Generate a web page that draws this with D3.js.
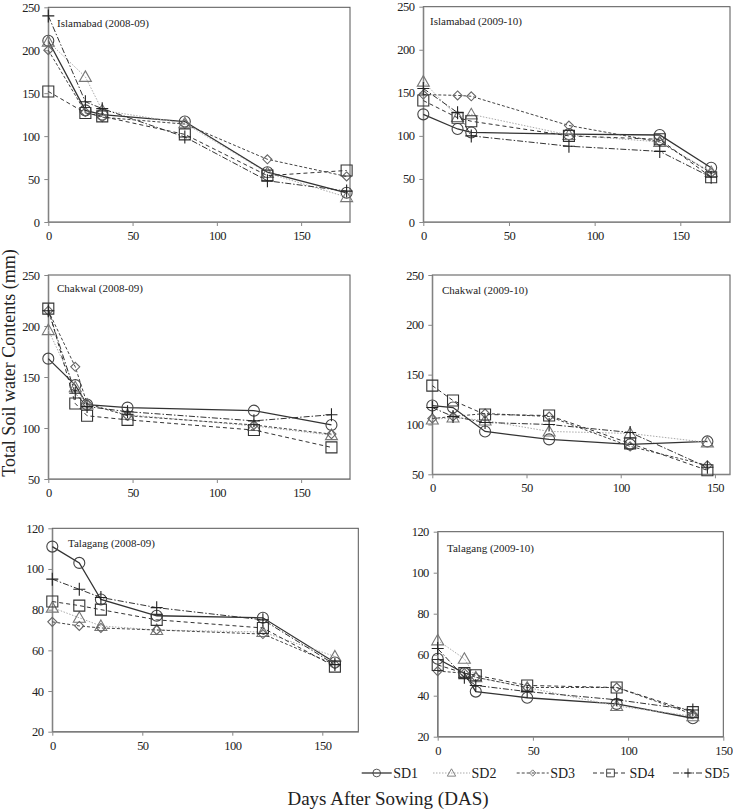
<!DOCTYPE html>
<html><head><meta charset="utf-8">
<script src="https://cdn.jsdelivr.net/npm/d3@7"></script>
<style>
body{margin:0;background:#fff;}
svg{display:block;}
svg text{font-family:"Liberation Serif","Times New Roman",serif !important;}
</style></head><body>
<svg id="c" width="733" height="811"></svg>
<script>
// ---------- DATA ----------
const seriesNames = ["SD1","SD2","SD3","SD4","SD5"];
const panelTitles = ["Islamabad (2008-09)","Islamabad (2009-10)","Chakwal (2008-09)","Chakwal (2009-10)","Talagang (2008-09)","Talagang (2009-10)"];

const daysIsb0809 = [0,22,32,81,130,177];
const isb0809 = [
  [211,130,125,117,58,34],
  [210,169,130,115,57,29],
  [200,128,122,114,73,53],
  [152,127,123,102,54,60],
  [240,140,132,99,48,36]
];
const daysIsb0910 = [0,20,28,85,138,168];
const isb0910 = [
  [125,108,104,102,101,63],
  [163,122,125,101,93,58],
  [148,147,146,112,93,57],
  [141,121,117,100,96,52],
  [155,127,100,88,82,52]
];
const daysChk0809 = [0,16,23,47,122,168];
const chk0809 = [
  [168,142,123,120,117,103],
  [196,140,123,113,102,93],
  [215,160,124,112,103,94],
  [217,124,112,108,98,81],
  [215,134,121,116,107,113]
];
const daysChk0910 = [0,11,28,62,105,146];
const chk0910 = [
  [119,117,93,85,80,83],
  [105,107,104,93,91,82],
  [106,108,111,108,78,59],
  [139,124,110,109,81,54],
  [117,108,102,100,92,57]
];
const daysTlg0809 = [0,15,27,58,117,157];
const tlg0809 = [
  [111,103,85,77,76,54],
  [81,76,72,70,69,57],
  [74,72,71,70,68,53],
  [84,82,80,75,71,52],
  [95,90,86,81,75,53]
];
const daysTlg0910 = [0,14,20,47,94,134];
const tlg0910 = [
  [58,51,42,39,36,29],
  [67,58,49,44,35,30],
  [52,51,49,44,44,31],
  [55,51,50,45,44,32],
  [63,49,45,42,38,33]
];
const xTicks = [0,50,100,150];
const yTicks250 = [0,50,100,150,200,250];
const yTicksChk = [50,100,150,200,250];
const yTicksTlg = [20,40,60,80,100,120];

// ---------- LAYOUT ----------
const panels = [
  {days:daysIsb0809, vals:isb0809, l:48.3, r:350, t:7.3, b:222, xd:[0,179], yd:[0,250], yt:yTicks250, tx:57, ty:27},
  {days:daysIsb0910, vals:isb0910, l:423.3, r:730, t:6.7, b:222, xd:[0,179], yd:[0,250], yt:yTicks250, tx:430, ty:25},
  {days:daysChk0809, vals:chk0809, l:48.3, r:350, t:275, b:479, xd:[0,179], yd:[50,250], yt:yTicksChk, tx:57, ty:292},
  {days:daysChk0910, vals:chk0910, l:432.3, r:730, t:275, b:474.3, xd:[0,158], yd:[50,250], yt:yTicksChk, tx:442, ty:294},
  {days:daysTlg0809, vals:tlg0809, l:52.3, r:358.3, t:528.3, b:731.7, xd:[0,170], yd:[20,120], yt:yTicksTlg, tx:68, ty:547},
  {days:daysTlg0910, vals:tlg0910, l:437.7, r:723.3, t:531.7, b:736.7, xd:[0,150], yd:[20,120], yt:yTicksTlg, tx:447, ty:552}
];

const styles = [
  {stroke:"#333", width:1.3, dash:null, mcolor:"#444", marker:"circle"},
  {stroke:"#aaa", width:1, dash:"1.5,1.5", mcolor:"#777", marker:"triangle"},
  {stroke:"#444", width:1, dash:"3,2", mcolor:"#666", marker:"diamond"},
  {stroke:"#333", width:1, dash:"4,3", mcolor:"#333", marker:"square"},
  {stroke:"#333", width:1, dash:"6,2,1.5,2", mcolor:"#222", marker:"plus"}
];
const markerPath = {
  circle: "M5.5,0A5.5,5.5 0 1,1 -5.5,0A5.5,5.5 0 1,1 5.5,0Z",
  triangle: "M0,-6L6,4.5L-6,4.5Z",
  diamond: "M0,-4.5L4.5,0L0,4.5L-4.5,0Z",
  square: "M-5.5,-5.5H5.5V5.5H-5.5Z",
  plus: "M-6,0H6M0,-6.5V6.5"
};

const svg = d3.select("#c");

panels.forEach((p,pi)=>{
  const x = d3.scaleLinear().domain(p.xd).range([p.l,p.r]);
  const y = d3.scaleLinear().domain(p.yd).range([p.b,p.t]);
  const g = svg.append("g");
  g.append("rect").attr("x",p.l).attr("y",p.t).attr("width",p.r-p.l).attr("height",p.b-p.t)
    .attr("fill","none").attr("stroke","#555").attr("stroke-width",1);
  const xa = g.append("g").attr("transform",`translate(0,${p.b})`)
    .call(d3.axisBottom(x).tickValues(xTicks).tickSize(4).tickPadding(5).tickSizeOuter(0));
  const ya = g.append("g").attr("transform",`translate(${p.l},0)`)
    .call(d3.axisLeft(y).tickValues(p.yt).tickSize(4).tickPadding(5).tickSizeOuter(0));
  [xa,ya].forEach(a=>{
    a.select(".domain").attr("stroke","#888");
    a.selectAll(".tick line").attr("stroke","#888");
    a.selectAll("text").style("font-size","12.5px").style("letter-spacing","-0.6px").attr("fill","#222");
  });
  g.append("text").attr("x",p.tx).attr("y",p.ty).style("font-size","11px").attr("fill","#222").text(panelTitles[pi]);
  const line = d3.line().x((d,i)=>x(p.days[i])).y(d=>y(d));
  p.vals.forEach((vals,si)=>{
    const s = styles[si];
    g.append("path").attr("d",line(vals)).attr("fill","none").attr("stroke",s.stroke)
      .attr("stroke-width",s.width).attr("stroke-dasharray",s.dash);
    g.selectAll(null).data(vals).enter().append("path")
      .attr("d",markerPath[s.marker])
      .attr("transform",(d,i)=>`translate(${x(p.days[i])},${y(d)})`)
      .attr("fill","none").attr("stroke",s.mcolor).attr("stroke-width",1.1);
  });
});

// legend
const legendX = [361.7, 433, 516.7, 593, 673];
const legendW = [30, 37, 32, 35, 30];
const ly = 773;
seriesNames.forEach((n,i)=>{
  const s = styles[i];
  const x0 = legendX[i], x1 = x0+legendW[i];
  svg.append("line").attr("x1",x0).attr("x2",x1).attr("y1",ly).attr("y2",ly)
    .attr("stroke",s.stroke).attr("stroke-width",s.width).attr("stroke-dasharray",s.dash);
  svg.append("path").attr("d",markerPath[s.marker])
    .attr("transform",`translate(${(x0+x1)/2},${ly}) scale(0.7)`)
    .attr("fill","none").attr("stroke",s.mcolor).attr("stroke-width",1.3);
  svg.append("text").attr("x",x1+1.5).attr("y",ly+5).style("font-size","14px").attr("fill","#222").text(n);
});

// axis titles
svg.append("text").attr("x",388).attr("y",805).attr("text-anchor","middle")
  .style("font-size","19px").attr("fill","#222").text("Days After Sowing (DAS)");
svg.append("text").attr("transform","translate(15,363) rotate(-90)").attr("text-anchor","middle")
  .style("font-size","18px").attr("fill","#222").text("Total Soil water Contents (mm)");
</script>
</body></html>
